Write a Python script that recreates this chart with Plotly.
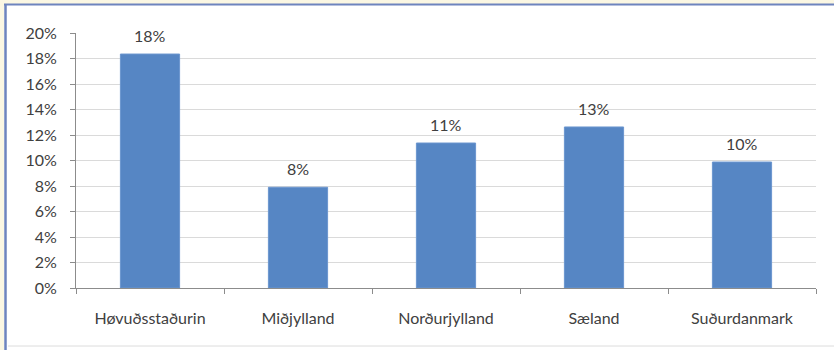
import plotly.graph_objects as go

# Share by region
regions = ["Høvuðsstaðurin", "Miðjylland", "Norðurjylland", "Sæland", "Suðurdanmark"]
shares = [0.1835, 0.079, 0.1137, 0.1263, 0.0988]
y_ticks = [0, 0.02, 0.04, 0.06, 0.08, 0.10, 0.12, 0.14, 0.16, 0.18, 0.20]

W, H = 834, 350
L, R, T, B = 76, 18, 33, 62
pw, ph = W - L - R, H - T - B


def px_x(x):
    return (x - L) / pw


def px_y(y):
    return (H - B - y) / ph


font = "Lato, Open Sans, sans-serif"
text_col = "#404040"
fs = 16

fig = go.Figure(
    go.Bar(
        x=regions,
        y=shares,
        marker=dict(color="#5686C4", line=dict(color="#6B96CF", width=1)),
        width=0.4,
    )
)

# value labels above each bar
for r, s in zip(regions, shares):
    fig.add_annotation(
        x=r, y=s, text=f"{s:.0%}", showarrow=False,
        yanchor="bottom", yshift=7,
        font=dict(family=font, size=fs, color=text_col),
    )

fig.update_layout(
    width=W,
    height=H,
    margin=dict(l=L, r=R, t=T, b=B),
    paper_bgcolor="white",
    plot_bgcolor="white",
    showlegend=False,
    font=dict(family=font, size=fs, color=text_col),
    xaxis=dict(
        type="category",
        showline=True,
        linecolor="#8C8C8C",
        linewidth=1,
        ticks="outside",
        tickson="boundaries",
        ticklen=5,
        tickcolor="#8C8C8C",
        showgrid=False,
        tickfont=dict(size=fs, color=text_col),
        ticklabelstandoff=16,
        range=[-0.5, 4.5],
    ),
    yaxis=dict(
        range=[0, 0.20],
        tickvals=y_ticks,
        tickformat=".0%",
        showline=True,
        linecolor="#8C8C8C",
        linewidth=1,
        ticks="outside",
        ticklen=5,
        tickcolor="#8C8C8C",
        gridcolor="#DADADA",
        gridwidth=1,
        zeroline=False,
        tickfont=dict(size=fs, color=text_col),
        ticklabelstandoff=10,
    ),
    shapes=[
        # cream surround at top and left
        dict(type="rect", xref="paper", yref="paper",
             x0=px_x(0), x1=px_x(W), y0=px_y(4), y1=px_y(0),
             fillcolor="#FBF7E3", line=dict(width=0), layer="above"),
        dict(type="rect", xref="paper", yref="paper",
             x0=px_x(0), x1=px_x(4), y0=px_y(H), y1=px_y(0),
             fillcolor="#FBF7E3", line=dict(width=0), layer="above"),
        # blue frame lines
        dict(type="line", xref="paper", yref="paper",
             x0=px_x(4), x1=px_x(W), y0=px_y(4.5), y1=px_y(4.5),
             line=dict(color="#6E84BE", width=2), layer="above"),
        dict(type="line", xref="paper", yref="paper",
             x0=px_x(5.5), x1=px_x(5.5), y0=px_y(4), y1=px_y(H),
             line=dict(color="#6E84BE", width=2.5), layer="above"),
        # thin bottom divider
        dict(type="line", xref="paper", yref="paper",
             x0=px_x(8), x1=px_x(W), y0=px_y(346), y1=px_y(346),
             line=dict(color="#DCDCDC", width=1), layer="above"),
    ],
)

fig.write_html("out.html")
